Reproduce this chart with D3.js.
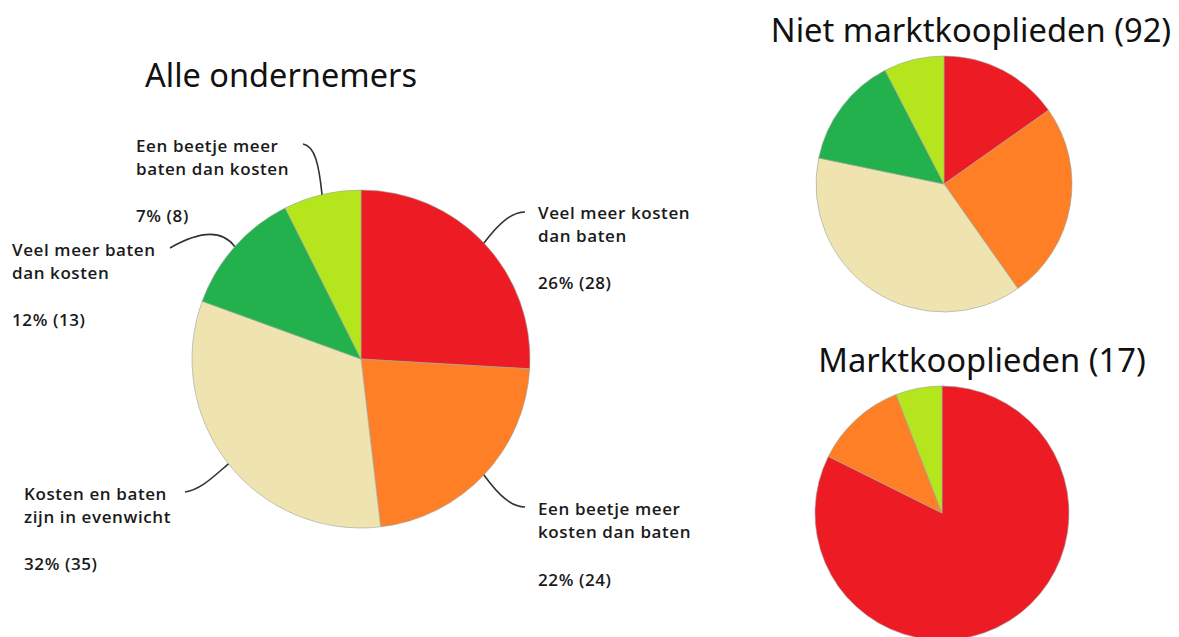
<!DOCTYPE html>
<html>
<head>
<meta charset="utf-8">
<script src="https://cdn.jsdelivr.net/npm/d3@7"></script>
<style>
  body { margin: 0; background: #fff; }
  .title { font-family: "Noto Sans", "Open Sans", sans-serif; fill: #111; }
  .lbl { font-family: "Open Sans", Lato, sans-serif; font-weight: 600; font-size: 17px; letter-spacing: 0.6px; fill: #1a1a1a; }
</style>
</head>
<body>
<div id="chart"></div>
<script>
// categories, clockwise from 12 o'clock
var categories = ['Veel meer kosten dan baten', 'Een beetje meer kosten dan baten',
  'Kosten en baten zijn in evenwicht', 'Veel meer baten dan kosten', 'Een beetje meer baten dan kosten'];
var colors = ['#ED1C24', '#FF7F27', '#EFE4B0', '#22B14C', '#B5E61D'];

var alleCounts = [28, 24, 35, 13, 8];
var alleShares = ['26%', '22%', '32%', '12%', '7%'];
var nietCounts = [14, 23, 35, 13, 7];
var marktCounts = [14, 2, 0, 0, 1];

// label lines, as they are broken in the picture
var labelLines = [
  ['Veel meer kosten', 'dan baten'],
  ['Een beetje meer', 'kosten dan baten'],
  ['Kosten en baten', 'zijn in evenwicht'],
  ['Veel meer baten', 'dan kosten'],
  ['Een beetje meer', 'baten dan kosten']
];

var width = 1179, height = 637;

var svg = d3.select('#chart').append('svg')
  .attr('width', width)
  .attr('height', height);

var pie = d3.pie().sort(null).value(function(d) { return d; });

function drawPie(counts, cx, cy, r) {
  var arc = d3.arc().innerRadius(0).outerRadius(r);
  var g = svg.append('g').attr('transform', 'translate(' + cx + ',' + cy + ')');
  g.selectAll('path')
    .data(pie(counts).filter(function(d) { return d.value > 0; }))
    .enter().append('path')
    .attr('d', arc)
    .attr('fill', function(d) { return colors[d.index]; })
    .attr('stroke', '#9aa5a0')
    .attr('stroke-width', 0.6);
  return pie(counts);
}

// main pie
var mcx = 361, mcy = 359, mr = 169;
var mainArcs = drawPie(alleCounts, mcx, mcy, mr);

svg.append('text').attr('class', 'title')
  .attr('x', 281).attr('y', 87)
  .attr('text-anchor', 'middle')
  .style('font-size', '32.5px')
  .text('Alle ondernemers');

// label block positions (left x, first baseline), leader end points and control points
var labelPos = [
  {x: 538, y: 219, ex: 525, ey: 212, pct: 289, c: [500, 222, 512, 212]},
  {x: 538, y: 515, ex: 525, ey: 507, pct: 586, c: [500, 497, 512, 507]},
  {x: 24, y: 500, ex: 185, ey: 492, pct: 570, c: [212, 478, 200, 490]},
  {x: 12, y: 256, ex: 170, ey: 248, pct: 326, c: [224, 232, 205, 228]},
  {x: 136, y: 152, ex: 303, ey: 144, pct: 222, c: [319, 165, 315, 146]}
];

mainArcs.forEach(function(a, i) {
  var mid = (a.startAngle + a.endAngle) / 2;
  var sx = mcx + mr * Math.sin(mid), sy = mcy - mr * Math.cos(mid);
  var p = labelPos[i];
  var path = d3.path();
  path.moveTo(sx, sy);
  path.bezierCurveTo(p.c[0], p.c[1], p.c[2], p.c[3], p.ex, p.ey);
  svg.append('path')
    .attr('d', path.toString())
    .attr('fill', 'none')
    .attr('stroke', '#333')
    .attr('stroke-width', 1.6);

  var t = svg.append('text').attr('class', 'lbl');
  labelLines[i].forEach(function(line, j) {
    t.append('tspan').attr('x', p.x).attr('y', p.y + j * 23).text(line);
  });
  svg.append('text').attr('class', 'lbl')
    .attr('x', p.x).attr('y', p.pct)
    .text(alleShares[i] + ' (' + alleCounts[i] + ')');
});

// small pies
drawPie(nietCounts, 944, 184, 128);
svg.append('text').attr('class', 'title')
  .attr('x', 971).attr('y', 42)
  .attr('text-anchor', 'middle')
  .style('font-size', '32.7px')
  .text('Niet marktkooplieden (' + d3.sum(nietCounts) + ')');

drawPie(marktCounts, 942, 513, 127);
svg.append('text').attr('class', 'title')
  .attr('x', 982).attr('y', 372)
  .attr('text-anchor', 'middle')
  .style('font-size', '32.7px')
  .text('Marktkooplieden (' + d3.sum(marktCounts) + ')');
</script>
</body>
</html>
